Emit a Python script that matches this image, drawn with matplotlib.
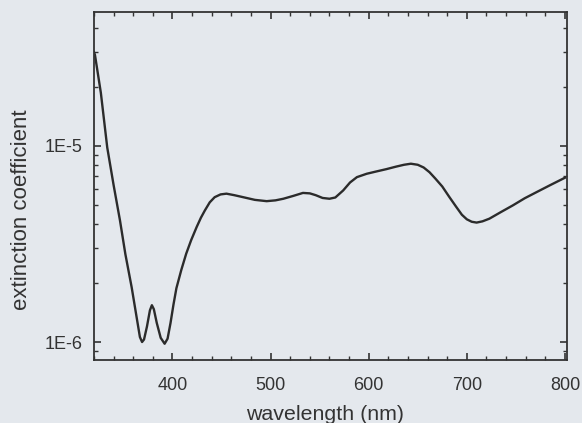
import matplotlib
matplotlib.use("Agg")
import matplotlib.pyplot as plt
from matplotlib.ticker import FixedLocator, FuncFormatter, LogLocator, NullFormatter, MultipleLocator

wavelength = [320, 321, 327, 333.5, 340, 346.5, 352, 358.4, 363, 366.8, 369, 371, 374, 377, 379,
              381, 384, 388, 392, 395, 398, 401, 404, 409, 414, 419, 424.6, 429, 433, 438, 443, 449,
              455, 463, 472, 484, 496, 505, 513, 523, 533, 540, 546, 553, 560, 566, 574, 581,
              588, 598, 608, 618, 628, 636, 643, 650, 656, 662, 668, 675, 682, 689, 695, 700,
              705, 710, 716, 723, 735, 747, 759, 771, 785, 800]
extinction = [3.0e-5, 2.9e-5, 1.86e-5, 9.8e-6, 6.3e-6, 4.16e-6, 2.8e-6, 1.9e-6, 1.38e-6, 1.06e-6,
              1.0e-6, 1.03e-6, 1.2e-6, 1.45e-6, 1.54e-6, 1.47e-6, 1.25e-6, 1.05e-6, 0.98e-6, 1.04e-6,
              1.25e-6, 1.55e-6, 1.88e-6, 2.33e-6, 2.82e-6, 3.3e-6, 3.85e-6, 4.3e-6, 4.68e-6, 5.15e-6,
              5.47e-6, 5.65e-6, 5.7e-6, 5.6e-6, 5.47e-6, 5.3e-6, 5.22e-6, 5.27e-6, 5.37e-6, 5.55e-6,
              5.75e-6, 5.72e-6, 5.6e-6, 5.42e-6, 5.37e-6, 5.45e-6, 5.92e-6, 6.5e-6, 6.92e-6, 7.2e-6,
              7.4e-6, 7.6e-6, 7.83e-6, 8.0e-6, 8.1e-6, 8.0e-6, 7.75e-6, 7.33e-6, 6.8e-6, 6.2e-6,
              5.5e-6, 4.9e-6, 4.45e-6, 4.22e-6, 4.1e-6, 4.06e-6, 4.12e-6, 4.25e-6, 4.6e-6, 4.97e-6,
              5.4e-6, 5.8e-6, 6.3e-6, 6.87e-6]
x_ticks = [400, 500, 600, 700, 800]
y_ticks = [1e-6, 1e-5]
y_tick_labels = ["1E-6", "1E-5"]

paper = "#e4e8ed"
ink = "#2b2b2b"

plt.rcParams['font.family'] = ['Liberation Sans', 'DejaVu Sans']

fig = plt.figure(figsize=(5.82, 4.23), dpi=100, facecolor=paper)
ax = fig.add_axes([0.1615, 0.149, 0.8125, 0.8225])
ax.set_facecolor(paper)

ax.plot(wavelength, extinction, color=ink, lw=1.7)

ax.set_yscale('log')
ax.set_xlim(320, 802)
ax.set_ylim(8.1e-7, 4.8e-5)

ax.xaxis.set_major_locator(FixedLocator(x_ticks))
ax.xaxis.set_minor_locator(MultipleLocator(20))
ax.yaxis.set_major_locator(FixedLocator(y_ticks))
ax.yaxis.set_major_formatter(FuncFormatter(lambda v, p: dict(zip(y_ticks, y_tick_labels)).get(v, "")))
ax.yaxis.set_minor_locator(LogLocator(base=10, subs=range(2, 10)))
ax.yaxis.set_minor_formatter(NullFormatter())

for s in ax.spines.values():
    s.set_color("#333333")
    s.set_linewidth(1.3)

ax.tick_params(which='both', direction='in', top=True, right=True, colors="#333333", labelcolor="#333333")
ax.tick_params(which='major', length=5, width=1.2, labelsize=13)
ax.tick_params(axis='x', which='major', pad=12)
ax.tick_params(axis='y', which='major', pad=8)
ax.tick_params(which='minor', length=3, width=1.0)

ax.set_xlabel("wavelength (nm)", fontsize=15.4, color="#333333", va='center')
ax.set_ylabel("extinction coefficient", fontsize=16, color="#333333", va='center')
ax.xaxis.set_label_coords(0.488, -0.158)
ax.yaxis.set_label_coords(-0.154, 0.431)

fig.savefig("out.png", dpi=100, facecolor=paper)
